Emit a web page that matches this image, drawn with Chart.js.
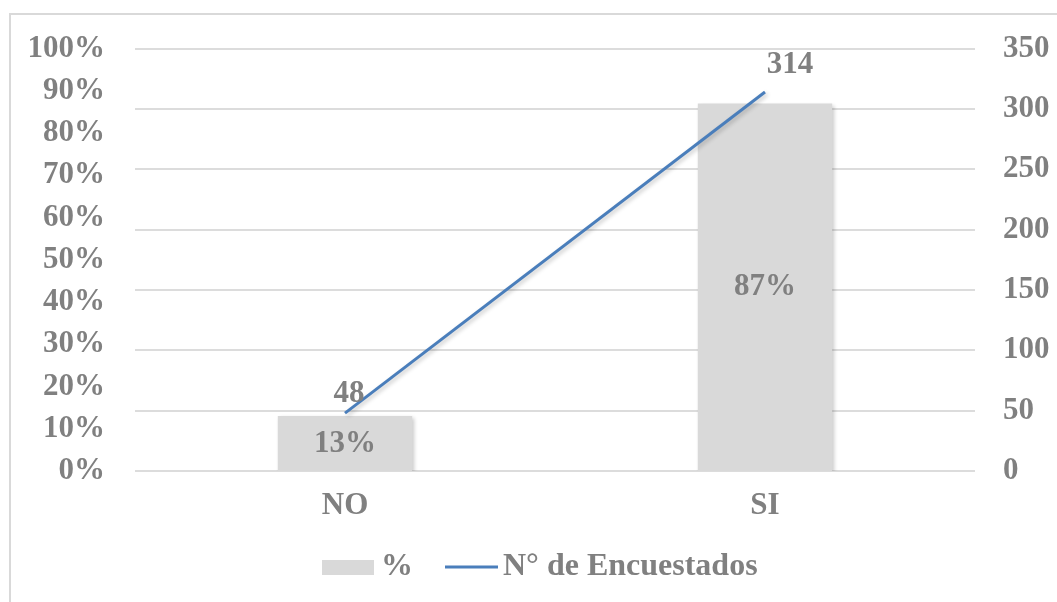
<!DOCTYPE html>
<html>
<head>
<meta charset="utf-8">
<script src="https://cdn.jsdelivr.net/npm/chart.js@4.4.0/dist/chart.umd.min.js"></script>
<style>
    html, body {margin: 0; padding: 0; background: #fff; overflow: hidden;}
    #frame {position: absolute; left: 9px; top: 13px; width: 1100px; height: 700px; border-left: 2px solid #d9d9d9; border-top: 2px solid #d9d9d9;}
    #wrap {position: absolute; left: 0; top: 0; width: 1057px; height: 602px;}
</style>
</head>
<body>
<div id="frame"></div>
<div id="wrap"><canvas id="myChart"></canvas></div>
<script>
// datos
const categorias = ['NO', 'SI'];
const porcentajes = [0.13, 0.87];
const encuestados = [48, 314];
const serieBarra = '%';
const serieLinea = 'N° de Encuestados';

const gris = '#808080', azul = '#4a7ebb';
const fuente = {family: '"Liberation Serif", "Times New Roman", serif', size: 31, weight: 'bold'};
const fontStr = 'bold 31px "Liberation Serif", "Times New Roman", serif';
const fontLeyenda = 'bold 32px "Liberation Serif", "Times New Roman", serif';

const sombra = {
    id: 'sombra',
    beforeDatasetDraw(chart) {
        const c = chart.ctx;
        c.save();
        c.shadowColor = 'rgba(0,0,0,0.22)';
        c.shadowBlur = 4;
        c.shadowOffsetX = 2;
        c.shadowOffsetY = 2;
    },
    afterDatasetDraw(chart) {
        chart.ctx.restore();
    }
};

const etiquetas = {
    id: 'etiquetas',
    afterDatasetsDraw(chart) {
        const c = chart.ctx;
        c.save();
        c.font = fontStr;
        c.fillStyle = gris;
        c.textAlign = 'center';
        c.textBaseline = 'middle';
        chart.getDatasetMeta(0).data.forEach(function (el, i) {
            c.fillText(Math.round(porcentajes[i] * 100) + '%', el.x, (el.y + el.base) / 2);
        });
        const offs = [[4, -19], [25, -27]];
        chart.getDatasetMeta(1).data.forEach(function (el, i) {
            c.fillText(String(encuestados[i]), el.x + offs[i][0], el.y + offs[i][1]);
        });
        c.restore();
    },
    afterDraw(chart) {
        // leyenda
        const c = chart.ctx, y = 567;
        c.save();
        c.font = fontLeyenda;
        c.textBaseline = 'middle';
        c.textAlign = 'left';
        c.fillStyle = '#d9d9d9';
        c.fillRect(322, y - 7, 52, 15);
        c.fillStyle = gris;
        c.fillText(serieBarra, 381, y);
        c.strokeStyle = azul;
        c.lineWidth = 3;
        c.beginPath();
        c.moveTo(445, y);
        c.lineTo(498, y);
        c.stroke();
        c.fillText(serieLinea, 503, y);
        c.restore();
    }
};

const ctx = document.getElementById('myChart');
let myChart = new Chart(ctx, {
    plugins: [sombra, etiquetas],
    data: {
        labels: categorias,
        datasets: [
            {
                type: 'bar',
                label: serieBarra,
                data: porcentajes,
                yAxisID: 'yPct',
                backgroundColor: '#d9d9d9',
                barPercentage: 0.32,
                categoryPercentage: 1,
                order: 2
            },
            {
                type: 'line',
                label: serieLinea,
                data: encuestados,
                yAxisID: 'yNum',
                borderColor: azul,
                borderWidth: 3,
                pointRadius: 0,
                tension: 0,
                order: 1
            }
        ]
    },
    options: {
        responsive: true,
        maintainAspectRatio: false,
        animation: false,
        layout: {padding: {top: 40, left: 0, right: 0, bottom: 0}},
        plugins: {legend: {display: false}, tooltip: {enabled: false}},
        scales: {
            x: {
                grid: {display: false, drawTicks: false},
                border: {display: false},
                ticks: {color: gris, font: fuente, padding: 16},
                afterFit: function (s) { s.height = 131; }
            },
            yPct: {
                position: 'left',
                min: 0, max: 1,
                grid: {display: false, drawTicks: false},
                border: {display: false},
                ticks: {
                    stepSize: 0.1, color: gris, font: fuente, padding: 30,
                    callback: function (v) { return Math.round(v * 100) + '%'; }
                },
                afterFit: function (s) { s.width = 135; }
            },
            yNum: {
                position: 'right',
                min: 0, max: 350,
                grid: {color: '#dcdcdc', lineWidth: 2, drawTicks: false},
                border: {display: false},
                ticks: {stepSize: 50, color: gris, font: fuente, padding: 28},
                afterFit: function (s) { s.width = 82; }
            }
        }
    }
});
</script>
</body>
</html>
